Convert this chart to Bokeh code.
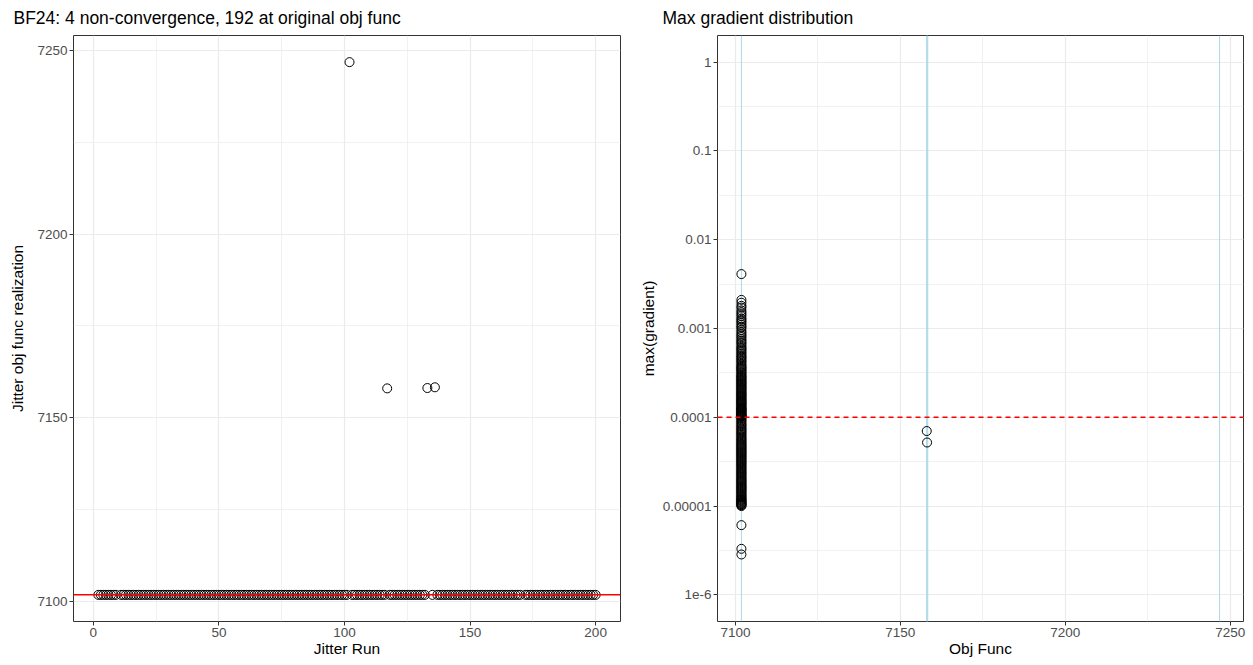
from bokeh.plotting import figure
from bokeh.layouts import row
from bokeh.models import Span, FixedTicker, Range1d, ColumnDataSource
from bokeh.embed import file_html
from bokeh.resources import INLINE

# ---------------- data ----------------
non_converged_runs = [1, 10, 134, 171]
original_obj = 7101.8
outlier_runs = [102, 117, 133, 136]
outlier_obj = [7246.8, 7158.0, 7158.1, 7158.3]
outlier_grad = [None, 7.0e-5, 5.2e-5, None]

grad_at_original = [
    4.1e-3, 2.1e-3, 1.95e-3, 1.8e-3, 1.72e-3, 1.6e-3, 1.52e-3, 1.45e-3, 1.38e-3, 1.3e-3,
    1.25e-3, 1.2e-3, 1.15e-3, 1.1e-3, 1.05e-3, 1.02e-3,
    9.6e-4, 9.1e-4, 8.7e-4, 8.3e-4, 8.0e-4, 7.6e-4, 7.3e-4, 7.0e-4, 6.8e-4, 6.5e-4,
    6.2e-4, 6.0e-4, 5.8e-4, 5.6e-4, 5.4e-4, 5.2e-4, 5.0e-4, 4.85e-4, 4.7e-4, 4.55e-4,
    4.4e-4, 4.25e-4, 4.1e-4, 3.95e-4, 3.8e-4, 3.7e-4, 3.6e-4, 3.5e-4, 3.4e-4, 3.3e-4,
    3.2e-4, 3.1e-4, 3.0e-4, 2.92e-4, 2.85e-4, 2.78e-4, 2.7e-4, 2.63e-4, 2.56e-4, 2.5e-4,
    2.44e-4, 2.38e-4, 2.32e-4, 2.26e-4, 2.2e-4, 2.15e-4, 2.1e-4, 2.05e-4, 2.0e-4, 1.95e-4,
    1.9e-4, 1.86e-4, 1.82e-4, 1.78e-4, 1.74e-4, 1.7e-4, 1.66e-4, 1.62e-4, 1.58e-4, 1.55e-4,
    1.52e-4, 1.49e-4, 1.46e-4, 1.43e-4, 1.4e-4, 1.37e-4, 1.34e-4, 1.31e-4, 1.28e-4, 1.26e-4,
    1.24e-4, 1.22e-4, 1.2e-4, 1.18e-4, 1.16e-4, 1.14e-4, 1.12e-4, 1.1e-4, 1.08e-4, 1.06e-4,
    1.05e-4, 1.04e-4, 1.03e-4, 1.02e-4, 1.01e-4,
    9.8e-5, 9.5e-5, 9.2e-5, 8.9e-5, 8.6e-5, 8.3e-5, 8.0e-5, 7.8e-5, 7.5e-5, 7.3e-5,
    7.1e-5, 6.9e-5, 6.7e-5, 6.5e-5, 6.3e-5, 6.1e-5, 5.9e-5, 5.75e-5, 5.6e-5, 5.45e-5,
    5.3e-5, 5.15e-5, 5.0e-5, 4.88e-5, 4.75e-5, 4.62e-5, 4.5e-5, 4.38e-5, 4.26e-5, 4.15e-5,
    4.05e-5, 3.95e-5, 3.85e-5, 3.75e-5, 3.65e-5, 3.55e-5, 3.46e-5, 3.37e-5, 3.28e-5, 3.2e-5,
    3.12e-5, 3.04e-5, 2.96e-5, 2.88e-5, 2.8e-5, 2.72e-5, 2.65e-5, 2.58e-5, 2.51e-5, 2.44e-5,
    2.38e-5, 2.32e-5, 2.26e-5, 2.2e-5, 2.14e-5, 2.08e-5, 2.02e-5, 1.97e-5, 1.92e-5, 1.87e-5,
    1.82e-5, 1.77e-5, 1.72e-5, 1.68e-5, 1.64e-5, 1.6e-5, 1.56e-5, 1.52e-5, 1.48e-5, 1.44e-5,
    1.4e-5, 1.36e-5, 1.32e-5, 1.29e-5, 1.26e-5, 1.23e-5, 1.2e-5, 1.18e-5, 1.16e-5, 1.14e-5,
    1.12e-5, 1.1e-5, 1.08e-5, 1.06e-5, 1.05e-5, 1.03e-5, 1.02e-5, 1.0e-5,
    6.1e-6, 3.3e-6, 2.85e-6,
]

left_title = "BF24: 4 non-convergence, 192 at original obj func"
right_title = "Max gradient distribution"
left_x_ticks = [0, 50, 100, 150, 200]
left_x_minor = [25, 75, 125, 175]
obj_ticks = [7100, 7150, 7200, 7250]
obj_minor = [7125, 7175, 7225]
grad_ticks = [1e-6, 1e-5, 1e-4, 1e-3, 1e-2, 1e-1, 1.0]
grad_tick_labels = ["1e-6", "0.00001", "0.0001", "0.001", "0.01", "0.1", "1"]
grad_minor = [10 ** (k + 0.5) for k in range(-7, 1)]
grad_threshold = 1e-4

# ---------------- build per-run table ----------------
runs, obj, grad = [], [], []
gi = 0
for r in range(1, 201):
    if r in non_converged_runs:
        continue
    runs.append(r)
    if r in outlier_runs:
        k = outlier_runs.index(r)
        obj.append(outlier_obj[k])
        grad.append(outlier_grad[k])
    else:
        obj.append(original_obj)
        grad.append(grad_at_original[gi])
        gi += 1

src_left = ColumnDataSource(dict(run=runs, obj=obj))
g_obj = [o for o, g in zip(obj, grad) if g is not None]
g_val = [g for g in grad if g is not None]
src_right = ColumnDataSource(dict(obj=g_obj, grad=g_val))
unique_obj = sorted(set(obj))

FONT = "Liberation Sans"
GRID = "#EBEBEB"
DARK = "#333333"


def style(p, xt, xm, yt, ym):
    p.title.text_font = FONT
    p.title.text_font_size = "17.5px"
    p.title.text_font_style = "normal"
    p.title.text_color = "black"
    p.title.standoff = 12
    p.title.vertical_align = "top"
    for ax in (p.xaxis[0], p.yaxis[0]):
        ax.axis_line_color = None
        ax.major_tick_line_color = DARK
        ax.major_tick_out = 4
        ax.major_tick_in = 0
        ax.minor_tick_line_color = None
        ax.major_label_text_font = FONT
        ax.major_label_text_font_size = "13.5px"
        ax.major_label_text_color = "#4D4D4D"
        ax.axis_label_text_font = FONT
        ax.axis_label_text_font_size = "15.5px"
        ax.axis_label_text_font_style = "normal"
        ax.axis_label_text_color = "black"
        ax.major_label_standoff = 2
    p.xaxis.axis_label_standoff = 0
    p.yaxis.axis_label_standoff = 3
    p.xaxis.ticker = FixedTicker(ticks=xt, minor_ticks=xm)
    p.yaxis.ticker = FixedTicker(ticks=yt, minor_ticks=ym)
    for g in (p.xgrid[0], p.ygrid[0]):
        g.grid_line_color = GRID
        g.grid_line_width = 1.2
        g.minor_grid_line_color = GRID
        g.minor_grid_line_width = 0.7
    p.outline_line_color = DARK
    p.outline_line_width = 1
    p.background_fill_color = "white"
    p.border_fill_color = "white"


# ---------------- left ----------------
left = figure(width=626, height=665, output_backend="svg", toolbar_location=None,
              x_range=Range1d(-7.9, 209.9), y_range=Range1d(7094.55, 7254.05),
              title=left_title,
              min_border_left=73, min_border_right=6, min_border_top=35, min_border_bottom=44)
left.xaxis.axis_label = "Jitter Run"
left.yaxis.axis_label = "Jitter obj func realization"
style(left, left_x_ticks, left_x_minor, obj_ticks, obj_minor)
left.yaxis.axis_label_standoff = 8
left.title.offset = -60
left.scatter("run", "obj", source=src_left, marker="circle", size=9,
             fill_color=None, line_color="black", line_width=1)
left.add_layout(Span(location=original_obj, dimension="width", line_color="red", line_width=1.5))

# ---------------- right ----------------
right = figure(width=627, height=665, output_backend="svg", toolbar_location=None,
               y_axis_type="log",
               x_range=Range1d(7094.55, 7254.05), y_range=Range1d(10 ** -6.3, 10 ** 0.3),
               title=right_title,
               min_border_left=91, min_border_right=10, min_border_top=35, min_border_bottom=44)
right.xaxis.axis_label = "Obj Func"
right.yaxis.axis_label = "max(gradient)"
style(right, obj_ticks, obj_minor, grad_ticks, grad_minor)
right.yaxis.major_label_overrides = {t: l for t, l in zip(grad_ticks, grad_tick_labels)}
right.title.offset = -55
for u in unique_obj:
    right.add_layout(Span(location=u, dimension="height", line_color="#ADD8E6",
                          line_width=1, level="underlay"))
right.scatter("obj", "grad", source=src_right, marker="circle", size=9,
              fill_color=None, line_color="black", line_width=1)
right.add_layout(Span(location=grad_threshold, dimension="width", line_color="red",
                      line_width=1.5, line_dash="5 4"))

layout = row(left, right)
open("out.html", "w").write(file_html(layout, INLINE))
